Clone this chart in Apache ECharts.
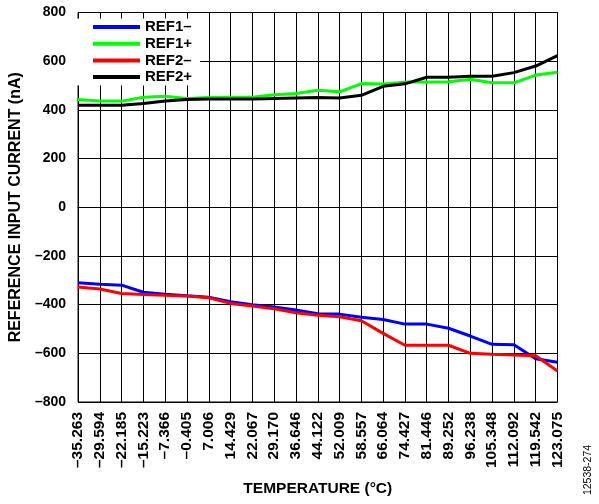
<!DOCTYPE html>
<html>
<head>
<meta charset="utf-8">
<script src="https://cdn.jsdelivr.net/npm/echarts@6/dist/echarts.min.js"></script>
<style>
html,body{margin:0;padding:0;background:#fff;}
#chart{width:599px;height:504px;}
</style>
</head>
<body>
<div id="chart"></div>
<script type="text/javascript">
var temps = ['–35.263','–29.594','–22.185','–15.223','–7.366','–0.405','7.006','14.429','22.067','29.170','36.646','44.122',
	'52.009','58.557','66.064','74.427','81.446','89.252','96.238','105.348','112.092','119.542','123.075'];
var ref1Minus = [-310,-316,-320,-349,-357,-364,-370,-388,-400,-410,-422,-437,-439,-452,-461,-480,-480,-497,-529,-563,-565,-622,-637];
var ref1Plus = [443,436,436,452,456,447,451,452,452,462,467,481,474,508,506,514,515,516,526,511,511,543,555];
var ref2Minus = [-328,-336,-354,-358,-362,-365,-372,-395,-406,-417,-433,-444,-450,-466,-518,-567,-567,-567,-600,-604,-607,-610,-673];
var ref2Plus = [419,419,419,426,436,443,445,445,445,447,449,451,449,460,497,507,534,534,538,538,553,580,623];

var font = 'Liberation Sans, Arial, sans-serif';
var chart = echarts.init(document.getElementById('chart'));

function line(name, data, color){
	return {
		name: name,
		type: 'line',
		data: data,
		symbol: 'none',
		lineStyle: {color: color, width: 3},
		itemStyle: {color: color}
	};
}

chart.setOption({
	animation: false,
	grid: {left: 76.5, right: 41.5, top: 12.5, bottom: 102, show: true, borderColor: '#000', borderWidth: 1},
	legend: {
		orient: 'vertical',
		left: 77, top: 18.5,
		padding: [1, 8, 1, 16],
		backgroundColor: '#fff',
		icon: 'rect',
		itemWidth: 47, itemHeight: 4,
		itemGap: 1.7,
		textStyle: {fontFamily: font, fontWeight: 'bold', fontSize: 15, color: '#000', lineHeight: 15, padding: [0, 0, 0, 0]},
		data: ['REF1–', 'REF1+', 'REF2–', 'REF2+']
	},
	xAxis: {
		type: 'category',
		data: temps,
		boundaryGap: false,
		name: 'TEMPERATURE (°C)',
		nameLocation: 'middle',
		nameGap: 79,
		nameTextStyle: {fontFamily: font, fontWeight: 'bold', fontSize: 15.5, color: '#000'},
		axisLine: {lineStyle: {color: '#000', width: 1}},
		axisTick: {show: false},
		axisLabel: {rotate: 90, interval: 0, margin: 10, fontFamily: font, fontWeight: 'bold', fontSize: 15.5, color: '#000'},
		splitLine: {show: true, interval: 0, lineStyle: {color: '#000', width: 1}}
	},
	yAxis: {
		type: 'value',
		min: -800, max: 800, interval: 200,
		name: 'REFERENCE INPUT CURRENT (nA)',
		nameLocation: 'middle',
		nameGap: 53,
		nameTextStyle: {fontFamily: font, fontWeight: 'bold', fontSize: 16, color: '#000'},
		axisLine: {show: true, lineStyle: {color: '#000', width: 1}},
		axisTick: {show: false},
		axisLabel: {
			margin: 12, fontFamily: font, fontWeight: 'bold', fontSize: 14, color: '#000',
			formatter: function (v) { return v < 0 ? '–' + Math.abs(v) : String(v); }
		},
		splitLine: {show: true, lineStyle: {color: '#000', width: 1}}
	},
	graphic: [{
		type: 'text',
		x: 588, y: 470,
		rotation: Math.PI / 2,
		style: {text: '12538-274', fontFamily: font, fontSize: 10.5, fill: '#000', align: 'center', verticalAlign: 'middle'}
	}],
	series: [
		line('REF1–', ref1Minus, '#0000ff'),
		line('REF1+', ref1Plus, '#00ff00'),
		line('REF2–', ref2Minus, '#ff0000'),
		line('REF2+', ref2Plus, '#000000')
	]
});
</script>
</body>
</html>
